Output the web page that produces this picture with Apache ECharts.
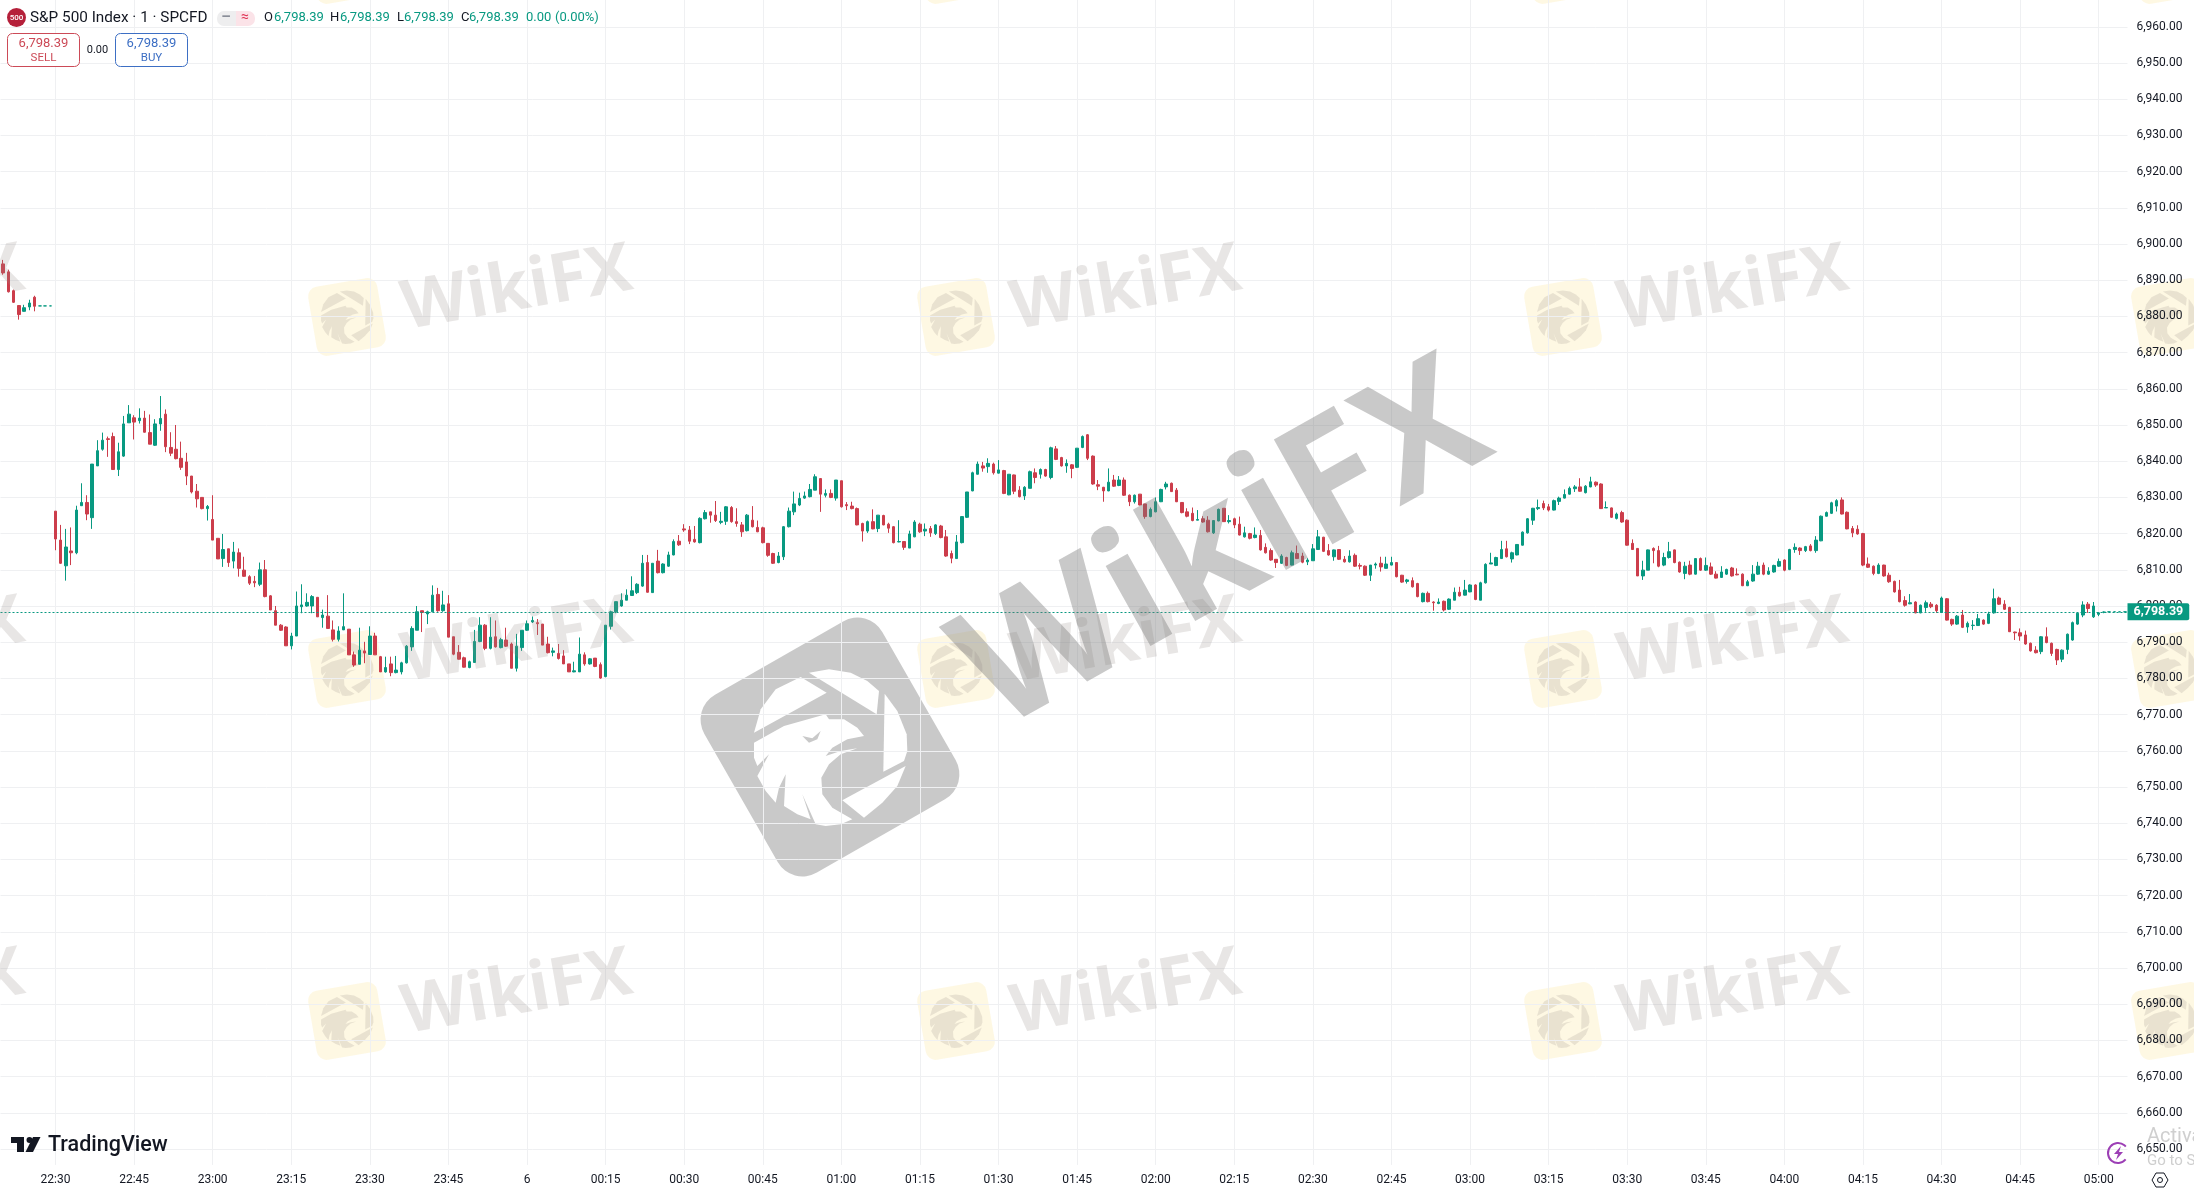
<!DOCTYPE html>
<html>
<head>
<meta charset="utf-8">
<style>html,body{margin:0;padding:0;background:#fff;overflow:hidden}#c{width:2194px;height:1193px}</style>
<script src="https://cdn.jsdelivr.net/npm/echarts@6/dist/echarts.min.js"></script>
</head>
<body>
<div id="c"></div>
<script>
// Rows are [open, close, high, low], one per minute.
const bars2220 = [
[6894.5,6892,6895.6,6891.5],[6892.3,6886.8,6892.9,6886.6],[6887.1,6883.9,6887.4,6883.7],[6883,6880.5,6883.1,6879.1],
[6881.4,6882.4,6883.2,6881.3],[6882.6,6883.7,6884.6,6881.7],[6885.3,6882.8,6885.7,6881.4],[6882.9,6882.9,6882.9,6882.9],
[6882.9,6882.9,6882.9,6882.9],[6882.9,6882.9,6882.9,6882.9]];
const bars2230 = [
[6826.2,6818.5,6826.2,6815.4],[6818.2,6811.8,6822.4,6811.6],[6811.1,6816.3,6821.3,6807],[6815.2,6814.7,6821.7,6811.3],
[6814.7,6826.5,6827.7,6814.3],[6827.7,6828.6,6833.9,6827.7],[6828.6,6825.4,6830.6,6823.7],[6824.4,6839.2,6839.2,6821.3],
[6838.7,6842.9,6845.8,6838.7],[6843.3,6845.8,6847.9,6842.9],[6846.2,6846,6846.8,6841.2],[6846.8,6837.7,6847.9,6837.6],
[6837.7,6842.6,6845.1,6835.9],[6841.4,6850.3,6852.5,6841.2],[6850.6,6853,6855.5,6850.6],[6852,6850.8,6852.7,6846],
[6851.2,6851.9,6854.6,6850.4],[6851.9,6848,6853.9,6847.9],[6847.9,6844.7,6852.9,6844.7],[6844.4,6850.3,6851.6,6844.2],
[6850.3,6851.8,6858,6848.4],[6853,6844,6854.3,6842.5],[6843.8,6842.2,6848,6841.4],[6843.3,6840.7,6850,6840.5],
[6840.8,6838.3,6845.4,6837.6],[6839.8,6835.9,6842.3,6833.4],[6835.9,6831.5,6835.9,6831.1],[6831.7,6829.6,6833.7,6827.2],
[6830,6826.9,6830,6826.7],[6826.9,6827.5,6827.9,6823.6]];
const bars2300 = [
[6823.9,6818.2,6830.6,6818.2],[6818.7,6813,6818.7,6813],[6813.1,6815.6,6819.9,6810.8],[6815.8,6812,6815.8,6810.8],
[6812.4,6814.9,6817.7,6810.4],[6814.7,6810.4,6815.9,6808.1],[6809.9,6808.2,6813.6,6808.1],[6808.1,6806.3,6808.5,6805.8],
[6806.8,6806.4,6808.3,6805.2],[6806,6810,6812,6805.5],[6810,6802.6,6812.7,6802.4],[6802.8,6798.9,6803,6798.9],
[6798.7,6794.7,6800,6794.7],[6794.7,6793.3,6795,6793.1],[6794.2,6789,6794.4,6789],[6789,6791.7,6792.6,6788],
[6791.7,6800,6804,6791.7],[6799.8,6800.3,6806,6798],[6800,6801,6803.5,6799.8],[6800,6802.6,6803,6798],
[6802.4,6797,6802.4,6797],[6796.8,6797.5,6799,6794],[6797.2,6793.8,6803,6793.8],[6793.4,6790.8,6796,6790.2],
[6790.8,6793.1,6794.4,6790.2],[6793.4,6794.3,6803.5,6793.4],[6793.6,6786.5,6793.6,6786.5],[6786.5,6783.7,6787.4,6783.2],
[6783.9,6787.8,6794,6783.9],[6787.6,6787,6790.1,6784.2]];
const bars2330 = [
[6786.6,6791.7,6794.4,6786.6],[6791.7,6786.5,6792.6,6786.5],[6786,6781.8,6786.2,6781.8],[6781.8,6783,6786,6781.6],
[6784,6781.6,6786,6780.6],[6781.6,6782.3,6786.2,6781.4],[6781.8,6784.3,6784.6,6781.1],[6784.3,6788.9,6789.2,6784.1],
[6788.7,6793.8,6794.4,6787.6],[6793.3,6798.4,6800,6793.3],[6798.7,6798.2,6798.7,6792.8],[6797.8,6798.4,6798.7,6795],
[6798.4,6803,6805.7,6798.4],[6803.2,6798.7,6805,6798.4],[6798.7,6800.3,6804.2,6798.4],[6800.6,6791.4,6803,6791.4],
[6791.5,6786.7,6791.5,6786.4],[6787.2,6785.3,6789.2,6785.2],[6785.7,6783.1,6786,6783],[6783,6784.6,6784.9,6782.8],
[6784.4,6790.2,6793.4,6784.4],[6790.2,6794.7,6796.9,6790],[6794.7,6788.3,6795,6787.8],[6788.3,6791.4,6796.9,6788],
[6791.5,6788.7,6796,6788.5],[6788.5,6790.7,6791.2,6788.3],[6790.6,6788.9,6794,6788.7],[6789.5,6782.8,6789.9,6782.8],
[6782.8,6788.9,6792.3,6781.9],[6788.5,6793.3,6793.3,6787.6]];
const bars0000 = [
[6793.3,6795.1,6796,6793.1],[6795.6,6796,6797.1,6795.3],[6795.4,6795.1,6796.4,6792],[6795,6789.2,6795,6789.2],
[6789.5,6787.1,6791.5,6786.9],[6787.2,6787.6,6788.5,6786.1],[6786.9,6785.5,6789.5,6785.2],[6786.2,6784,6787.8,6784],
[6784,6781.8,6784,6781.8],[6781.8,6782.1,6784.6,6781.7],[6781.8,6786.7,6791.3,6781.8],[6786.5,6784,6787.2,6783.5],
[6784,6785.4,6785.6,6783.8],[6785.6,6783.3,6785.6,6783.1],[6783.8,6780.1,6784.4,6779.9],[6780.5,6794.7,6794.7,6780.3],
[6794.4,6798.4,6798.7,6793.5],[6798.4,6801.2,6801.2,6798],[6800,6801.6,6803.5,6799.8],[6801.6,6803,6804.6,6801.6],
[6802.9,6804.2,6808.2,6802.8],[6803.7,6806,6806.3,6803.3],[6805.5,6811.8,6814.1,6805.3],[6812,6803.8,6814.1,6803.7],
[6803.7,6811.8,6811.8,6803.6],[6812.4,6809.2,6815.5,6809],[6809.2,6811.6,6811.8,6809],[6811,6814.1,6815,6810.8],
[6814.1,6817.8,6818.4,6814],[6817.9,6816.9,6819.6,6816.6]];
const bars0030 = [
[6821.3,6821,6822.6,6820.5],[6821,6817.9,6822.1,6817.1],[6818.4,6817.7,6822.1,6817.5],[6817.5,6824.2,6824.5,6817.3],
[6824.1,6825.8,6826.5,6823.9],[6826,6825.1,6826,6823],[6825.1,6823.6,6829,6823.2],[6823.1,6823.4,6826,6822.6],
[6823.4,6827.4,6827.6,6822.4],[6827.2,6823.3,6827.6,6823],[6823.3,6822.8,6827,6821.9],[6822.4,6820.5,6823.2,6819.1],
[6820.8,6825.1,6825.4,6820.6],[6823.7,6821.9,6827.6,6821.7],[6821.7,6820.5,6823.6,6820.4],[6821.6,6817.5,6821.9,6817.3],
[6817.3,6814,6817.3,6813.6],[6814.5,6811.8,6814.7,6811.6],[6812,6813.8,6814.9,6811.8],[6813.6,6821.9,6822.1,6812.7],
[6821.9,6826.2,6827.2,6821.7],[6826,6828.2,6831.6,6825.1],[6827.9,6829.7,6831.3,6827.6],[6829.8,6830.4,6831.6,6829.6],
[6830.2,6832.2,6833.7,6830],[6832,6835.7,6836.4,6832],[6835.2,6830.9,6835.3,6826],[6830.6,6831.1,6832.2,6830],
[6831.1,6830,6832.2,6829.8],[6829.8,6834.8,6834.8,6829.1]];
const bars0100 = [
[6834.6,6827.4,6834.6,6827.2],[6828,6827.7,6828.7,6826.5],[6827.6,6826.9,6828.8,6826.7],[6826.9,6822.4,6827.2,6822.3],
[6822.8,6820.7,6823,6817.8],[6820.7,6823.3,6823.6,6820.2],[6823.3,6821.3,6826.7,6821.2],[6821.4,6825.1,6825.1,6820.4],
[6825,6822.4,6825.2,6822.3],[6822.6,6821.5,6823,6820.2],[6821.9,6817.5,6822.1,6817.3],[6817.7,6817.8,6823.7,6817.6],
[6817.8,6816.2,6817.8,6815.5],[6816,6819.9,6820.8,6816],[6819.1,6823.2,6823.7,6819],[6822.6,6820.5,6823,6820.2],
[6820.7,6821.2,6822.8,6819.3],[6821.4,6820.2,6822.1,6819.1],[6820,6822.4,6822.6,6819.6],[6822.1,6818.9,6822.4,6818.7],
[6819.1,6813.8,6821,6813.6],[6814.5,6813.2,6815.3,6811.8],[6813.1,6817.7,6819.6,6813.1],[6817.5,6824.7,6824.8,6817.3],
[6824.5,6831.5,6831.5,6824.3],[6831.8,6836.8,6837.1,6831.7],[6836.4,6839.2,6839.9,6836.3],[6838.7,6838.1,6839.8,6837.1],
[6838.5,6839.4,6840.8,6836.8],[6839.2,6836.8,6839.6,6836.3]];
const bars0130 = [
[6836.7,6837.6,6840.3,6836.6],[6837.4,6831.1,6837.6,6830.9],[6830.7,6836.4,6836.4,6830.6],[6836.2,6831.7,6836.3,6830.9],
[6832,6830.2,6833.1,6830],[6830.4,6832.8,6833.1,6829.3],[6832.5,6837.1,6837.4,6832.5],[6836.8,6835.5,6838,6833.9],
[6836.4,6837.7,6838,6835.2],[6837.7,6835.9,6837.9,6835.7],[6835.5,6843.7,6844,6835],[6843.4,6840.5,6844.2,6840.3],
[6841,6838.7,6841.2,6838.5],[6838.7,6839.4,6840.5,6836.8],[6839,6838,6839.2,6835.3],[6838.3,6843.6,6843.6,6838.1],
[6843.8,6846.8,6847.1,6843.6],[6847.3,6840.8,6847.5,6840.3],[6841.4,6833.7,6841.6,6833.5],[6833.5,6833.1,6834.8,6832],
[6832.8,6831.8,6832.9,6828.8],[6831.8,6834.2,6838,6831.7],[6834.8,6833.1,6836.2,6832.9],[6833.3,6834.8,6835.9,6833.1],
[6834.8,6830.6,6835.5,6830.4],[6830.6,6828.8,6830.8,6827.6],[6828.8,6830.6,6830.8,6828.3],[6830.9,6827.9,6830.9,6827.8],
[6828.2,6824.7,6828.2,6824.1],[6824.7,6826.7,6827.2,6824.5]];
const bars0200 = [
[6826,6828.8,6830,6825.9],[6828.8,6832.2,6832.4,6828.7],[6832.9,6833.7,6834.3,6832.2],[6833.9,6831.6,6834.1,6831.5],
[6832,6828.8,6832.6,6828.7],[6828.6,6825.8,6828.7,6825.6],[6826,6824.8,6827,6824.5],[6825.6,6823.6,6827.2,6823.4],
[6823.7,6823.9,6826.5,6823.7],[6824.1,6823.2,6824.8,6823],[6823.7,6820.5,6824.8,6820.3],[6820.2,6823.6,6823.7,6819.9],
[6823.5,6826.7,6826.9,6823.4],[6827,6823.3,6827,6823.2],[6823.3,6823.6,6825.1,6822.8],[6824.1,6822.4,6824.4,6821.5],
[6822.6,6819.6,6824.7,6819.5],[6819.1,6820.2,6821.9,6818.9],[6820,6818.7,6820.2,6818.4],[6818.9,6819.6,6821.7,6818.7],
[6819.5,6815.5,6821,6815.3],[6816.2,6814.7,6817.3,6814.5],[6815.3,6812.7,6815.9,6812.5],[6812.9,6812,6812.9,6810.5],
[6811.8,6813.8,6814.3,6811.6],[6813.4,6811.2,6813.6,6811],[6811.3,6814.7,6815.3,6811.2],[6814.5,6813.1,6816.7,6813],
[6813.8,6812.1,6814.7,6811.8],[6812.2,6812.7,6813.2,6811.3]];
const bars0230 = [
[6812.5,6815.8,6817.1,6812.5],[6815.6,6819.1,6821,6815.5],[6819,6815.1,6819.1,6814.9],[6815.3,6814.1,6817.1,6813.9],
[6813.6,6815.5,6815.6,6812.5],[6815.6,6812.9,6815.7,6812.7],[6812.9,6812.2,6813.8,6812],[6812.2,6813.8,6815.4,6812],
[6814,6811,6814.5,6810.8],[6811.2,6811,6811.8,6810.1],[6811,6808.5,6811.2,6808.3],[6808.5,6811.3,6811.3,6806.9],
[6811.3,6811.6,6812,6810.3],[6811.8,6810.8,6813.6,6809.5],[6810.4,6811.6,6813.6,6810.3],[6811.3,6812,6813.6,6811.2],
[6812,6808.1,6812,6807.9],[6808.5,6806.6,6808.6,6806.4],[6806.8,6807.2,6807.5,6806.2],[6807,6805.3,6807.9,6805.1],
[6806.2,6802.6,6806.4,6802.4],[6801.2,6803.5,6803.7,6801],[6803.5,6801.2,6804,6801],[6801.1,6800.9,6801.3,6798.7],
[6800.7,6801.1,6802.1,6800.5],[6801.3,6798.9,6801.5,6798.5],[6799.1,6801.9,6802.1,6798.9],[6801.6,6803.8,6805.1,6801.6],
[6803.8,6802.8,6805.3,6802.6],[6803,6804.4,6807.2,6802.9]];
const bars0300 = [
[6803.9,6805.8,6806,6803.8],[6805.8,6801.8,6806,6801.6],[6801.6,6806.4,6806.7,6801.6],[6806.4,6811.5,6811.8,6806.2],
[6811.6,6811.9,6814.7,6811.6],[6811.2,6813.4,6813.6,6811],[6813.1,6815.6,6818,6813],[6815.8,6813.6,6818,6813.4],
[6813,6814.7,6815,6812],[6814.1,6817,6817.1,6814],[6816.8,6820.4,6820.6,6816.7],[6820.2,6824.1,6824.3,6820],
[6823.7,6827,6827.1,6822.4],[6826.9,6827.2,6829.4,6826.5],[6828.3,6827.1,6829.1,6826.5],[6827.4,6826.5,6828.2,6826.1],
[6826.5,6829.1,6829.4,6826.4],[6828.9,6829.8,6830.2,6827.9],[6829.8,6830.8,6832.2,6829.7],[6830.9,6832.5,6833,6830.8],
[6832.4,6832.9,6833.4,6831.5],[6832.9,6831.7,6835.3,6831.6],[6831.3,6833.1,6833.4,6831.1],[6832.9,6834.3,6835.7,6832.8],
[6834.2,6833.4,6834.4,6832.9],[6833.7,6826.9,6833.9,6826.8],[6827.1,6827.2,6828.9,6827.1],[6827.1,6824.5,6827.2,6824.3],
[6824.2,6825.4,6825.8,6823.9],[6825.8,6823.2,6826.3,6823]];
const bars0330 = [
[6823.7,6816.8,6823.9,6816.7],[6817.3,6815.6,6818.4,6815.5],[6815.9,6808.3,6816,6808.3],[6808.3,6809.9,6812.5,6807.2],
[6809.9,6815.5,6815.6,6809.9],[6815.9,6815.3,6816.2,6811.8],[6815.3,6811,6816.6,6810.7],[6811.3,6813.4,6814.7,6811],
[6813.4,6815,6817.7,6813.1],[6815.5,6812,6815.6,6811.8],[6812.1,6809.4,6812.3,6809.2],[6809,6811,6812.2,6807.4],
[6811.3,6808.8,6812.5,6808.5],[6808.8,6813.1,6813.2,6808.7],[6813.1,6809.9,6813.4,6809.7],[6809.9,6811.2,6813.4,6809.7],
[6810.8,6808.8,6812,6808.6],[6808.8,6807.7,6809.6,6807.6],[6807.9,6809.4,6811,6807.8],[6808.8,6810.1,6810.3,6808.6],
[6810.5,6808.3,6810.8,6808.1],[6808.8,6808.6,6810.4,6808.5],[6808.8,6805.6,6809,6805.5],[6805.6,6806.7,6807.2,6805.5],
[6806.9,6808.8,6811.3,6806.7],[6808.8,6811,6812.2,6808.6],[6811.3,6808.8,6812,6808.5],[6808.8,6809.6,6810.7,6808.6],
[6809.4,6811.2,6811.4,6809.2],[6811,6812.3,6813.1,6810.8]];
const bars0400 = [
[6812.7,6809.9,6812.9,6809.6],[6810.1,6815.6,6815.8,6809.9],[6815.6,6816.2,6817.3,6814.7],[6816,6815.3,6816.2,6814.1],
[6815.3,6816.4,6816.6,6814.9],[6816.6,6815.3,6817.1,6815.1],[6815.3,6818.2,6819.3,6814.7],[6818,6824.8,6825,6817.9],
[6824.8,6825.8,6826.1,6824.7],[6825.6,6828.5,6828.8,6825.4],[6827.6,6829.1,6829.5,6826.1],[6829.3,6825.4,6830,6825.3],
[6825.9,6821.3,6826.1,6821.2],[6821.4,6820.2,6822.1,6819],[6821.2,6819.9,6822.3,6819.7],[6820,6811.3,6820.2,6811],
[6811.6,6810.7,6813.4,6810.5],[6811,6809,6811.2,6808.5],[6809,6811.3,6811.8,6808.8],[6811.3,6808.3,6811.4,6808.1],
[6808.5,6806.7,6809.2,6806.4],[6806.8,6803.9,6807,6803.7],[6804.4,6801.2,6807.2,6801],[6801.5,6800.2,6802.7,6799.8],
[6800.6,6800.9,6803.3,6800.5],[6801.1,6798.1,6801.3,6798],[6798.1,6800.2,6800.4,6798],[6799.6,6800.9,6801.5,6798.4],
[6800.5,6799.8,6801.1,6799.4],[6800.2,6798.7,6800.5,6798.1]];
const bars0430 = [
[6798.2,6802.2,6802.6,6798.1],[6802,6796.1,6802.2,6796],[6796.3,6795,6796.5,6794.5],[6795,6797.2,6797.5,6794.8],
[6797.5,6794.1,6798.9,6793.9],[6794.2,6795.2,6795.7,6792.6],[6794.6,6794.7,6796.1,6793.4],[6794.6,6796.5,6797.8,6794.5],
[6796.1,6795,6796.3,6794.8],[6795.2,6797.8,6798.4,6795],[6798.1,6802,6804.8,6797.9],[6802.2,6800.5,6802.6,6800.3],
[6800.5,6799.1,6801.6,6798.9],[6799.6,6792.9,6799.8,6792.8],[6792.8,6792.6,6792.9,6790.6],[6792.6,6791.7,6793.8,6790.4],
[6792,6789.5,6793.2,6789.3],[6789.7,6787.6,6789.9,6787.4],[6787.8,6787.1,6788.9,6786.9],[6787.4,6791.5,6791.7,6786.7],
[6791.5,6789.9,6794.1,6789.7],[6789.7,6786.9,6789.9,6786.2],[6788,6785.1,6788.2,6783.7],[6785.3,6787.8,6788,6784.5],
[6788,6792.2,6792.4,6786.7],[6790.6,6795.4,6795.7,6790.4],[6795,6798,6798.1,6794.8],[6797.5,6800.3,6801.3,6796.9],
[6800.5,6799.3,6801.1,6798.1],[6797,6800,6801.1,6796.7]];
const bars0500 = [
[6797.7,6798.1,6798.3,6797.2],[6798.3,6798.3,6798.5,6798],[6798.39,6798.39,6798.39,6798.39],[6798.39,6798.39,6798.39,6798.39],
[6798.39,6798.39,6798.39,6798.39],[6798.39,6798.39,6798.39,6798.39]];

const lastPrice = 6798.39;
const firstMinute = 22 * 60 + 20;          // 22:20, the first bar
const dayTickLabel = '6';                  // label shown at 00:00

const rows = [].concat(bars2220, bars2230, bars2300, bars2330, bars0000, bars0030, bars0100,
                       bars0130, bars0200, bars0230, bars0300, bars0330, bars0400, bars0430, bars0500);
const minutes = rows.map((_, i) => (firstMinute + i) % 1440);
const pad = n => String(n).padStart(2, '0');
const categories = minutes.map(m => pad(Math.floor(m / 60)) + ':' + pad(m % 60));
const isTick = i => i >= 10 && minutes[i] % 15 === 0;
const tickCats = categories.filter((_, i) => isTick(i));
const candleData = rows.map(r => [r[0], r[1], r[3], r[2]]); // open, close, low, high

const UP = '#089981', DOWN = '#cc3d4b', INK = '#131722', GRID = '#eff0f2';
const FONT = 'Roboto, sans-serif';

// ---------- overlay art ----------
const txt = (text, x, y, size, fill, o = {}) => ({
  type: 'text', x, y, z: o.z || 20, rotation: o.rotation || 0,
  style: { text, fill, font: `${o.weight || 'normal'} ${size}px ${o.family || FONT}`,
           textAlign: o.align || 'left', textVerticalAlign: 'middle' }
});
// Watermark logo outline, in a 780-unit drawing centred at (388,388).
const logoParts = [
  [[160,345],[180,275],[225,215],[300,178],[378,225]],
  [[325,165],[385,155],[450,165],[500,190],[535,220],[528,290]],
  [[552,228],[590,280],[618,350],[620,400],[610,430],[548,462]],
  [[615,445],[590,505],[545,555],[490,600],[425,548]],
  [[160,375],[250,325],[375,290],[385,305],[430,305],[470,330],[490,355],[440,365],[395,390],[375,415],[420,400],[470,392],
   [420,410],[385,440],[362,480],[365,530],[395,570],[455,605],[420,620],[375,625],[345,620],[305,530],[330,605],[290,590],
   [250,565],[255,470],[235,510],[225,555],[195,520],[170,475],[205,410],[170,445],[160,420]]
];
const logoEye = [[305,355],[335,362],[360,340],[350,365],[325,375]];
function logo(cx, cy, size, rotation, boxFill, partFill, eyeFill, z) {
  const s = size / 205 / 3;
  const map = p => p.map(q => [(q[0] - 388) * s, (q[1] - 388) * s]);
  const children = [{ type: 'rect', shape: { x: -size / 2, y: -size / 2, width: size, height: size, r: size * 0.14 }, style: { fill: boxFill } }];
  logoParts.forEach(p => children.push({ type: 'polygon', rotation: -rotation, shape: { points: map(p) }, style: { fill: partFill } }));
  if (eyeFill) children.push({ type: 'polygon', rotation: -rotation, shape: { points: map(logoEye) }, style: { fill: eyeFill } });
  return { type: 'group', x: cx, y: cy, rotation, z, children };
}
const smallText = 'rgba(150,140,135,0.22)', smallBox = 'rgba(250,225,140,0.24)', smallPart = 'rgba(150,140,135,0.2)';
const art = [];
[-35, 317, 669, 1021].forEach(ly => {
  [-261, 347, 956, 1563, 2170].forEach(lx => {
    art.push(logo(lx, ly, 70, 0.17, smallBox, smallPart, null, 0));
    art.push(txt('WikiFX', lx + 170, ly - 27, 68, smallText, { align: 'center', weight: '700', family: '"Open Sans", sans-serif', rotation: 0.175, z: 0 }));
  });
});
art.push(logo(830, 747, 205, 0.52, 'rgba(120,120,120,0.4)', '#ffffff', 'rgba(120,120,120,0.4)', 60));
art.push(txt('WikiFX', 1224, 550, 168, 'rgba(120,120,120,0.4)', { align: 'center', weight: '700', family: '"Open Sans", sans-serif', rotation: 0.51, z: 60 }));

// header
art.push({ type: 'circle', z: 20, shape: { cx: 16.5, cy: 17.5, r: 9.5 }, style: { fill: '#b5203a' } });
art.push(txt('500', 16.5, 17.5, 8, '#fff', { align: 'center', weight: '500' }));
art.push(txt('S&P 500 Index · 1 · SPCFD', 30, 18, 15.3, INK));
art.push({ type: 'rect', z: 20, shape: { x: 217, y: 11, width: 19, height: 15, r: [7, 0, 0, 7] }, style: { fill: '#eeeeef' } });
art.push({ type: 'rect', z: 20, shape: { x: 236, y: 11, width: 19, height: 15, r: [0, 7, 7, 0] }, style: { fill: '#fbe3e8' } });
art.push(txt('–', 226, 17, 15, '#8a8e99', { align: 'center', weight: '700' }));
art.push(txt('≈', 245, 17.5, 14, '#e0395a', { align: 'center' }));
[['O', 264, 274], ['H', 330, 340], ['L', 397, 404], ['C', 461, 469]].forEach(h => {
  art.push(txt(h[0], h[1], 18, 13, INK));
  art.push(txt('6,798.39', h[2], 18, 13, UP));
});
art.push(txt('0.00', 526, 18, 13, UP));
art.push(txt('(0.00%)', 555, 18, 13, UP));
art.push({ type: 'rect', z: 20, shape: { x: 7.5, y: 33.5, width: 72, height: 33, r: 5 }, style: { fill: '#fff', stroke: '#cc4a57', lineWidth: 1 } });
art.push(txt('6,798.39', 43.5, 43.5, 13, '#cc4a57', { align: 'center' }));
art.push(txt('SELL', 43.5, 58, 11.5, '#cc4a57', { align: 'center' }));
art.push(txt('0.00', 97.5, 50, 11, INK, { align: 'center' }));
art.push({ type: 'rect', z: 20, shape: { x: 115.5, y: 33.5, width: 72, height: 33, r: 5 }, style: { fill: '#fff', stroke: '#3d6fc4', lineWidth: 1 } });
art.push(txt('6,798.39', 151.5, 43.5, 13, '#3d6fc4', { align: 'center' }));
art.push(txt('BUY', 151.5, 58, 11.5, '#3d6fc4', { align: 'center' }));

// TradingView mark
art.push({ type: 'polygon', z: 20, shape: { points: [[11,1137],[24,1137],[24,1152],[17,1152],[17,1143],[11,1143]] }, style: { fill: INK } });
art.push({ type: 'circle', z: 20, shape: { cx: 29.5, cy: 1140, r: 3 }, style: { fill: INK } });
art.push({ type: 'polygon', z: 20, shape: { points: [[33,1137],[40.5,1137],[33,1152],[25.5,1152]] }, style: { fill: INK } });
art.push(txt('TradingView', 48, 1146, 21.5, INK, { weight: '500' }));

// bottom-right icons
art.push({ type: 'arc', z: 20, shape: { cx: 2118, cy: 1153, r: 10, startAngle: 0.7, endAngle: 5.6 }, style: { stroke: '#9c3fb5', fill: 'none', lineWidth: 2 } });
art.push({ type: 'polygon', z: 20, shape: { points: [[2121,1146],[2114,1154],[2118,1154],[2116,1160],[2123,1152],[2119,1152]] }, style: { fill: '#9c3fb5' } });
art.push(txt('Activate Windows', 2147, 1137, 20, '#cfcfcf', { z: 25 }));
art.push(txt('Go to Settings', 2147, 1161, 15, '#cfcfcf', { z: 25 }));
art.push({ type: 'polygon', z: 20, shape: { points: [[2152,1180],[2156,1173],[2164,1173],[2168,1180],[2164,1187],[2156,1187]] }, style: { fill: '#fff', stroke: INK, lineWidth: 1 } });
art.push({ type: 'circle', z: 21, shape: { cx: 2160, cy: 1180, r: 2.5 }, style: { fill: '#fff', stroke: INK, lineWidth: 1 } });

// ---------- chart ----------
const chart = echarts.init(document.getElementById('c'), null, { renderer: 'canvas' });
chart.setOption({
  animation: false,
  backgroundColor: '#ffffff',
  textStyle: { fontFamily: FONT },
  graphic: { elements: art },
  grid: { left: 0.5, right: 66.5, top: 0, height: 1185.2 },
  xAxis: {
    type: 'category', data: categories, boundaryGap: true,
    axisLine: { show: false }, axisTick: { show: false }, splitLine: { show: false },
    position: 'bottom', offset: -20,
    axisLabel: {
      show: true, margin: 8.5, color: INK, fontSize: 12, fontFamily: FONT,
      interval: i => isTick(i),
      formatter: v => v === '00:00' ? dayTickLabel : v
    }
  },
  yAxis: {
    type: 'value', position: 'right', min: 6640, max: 6967.4, interval: 10, scale: true,
    axisLine: { show: false }, axisTick: { show: false },
    axisLabel: {
      margin: 9, color: INK, fontSize: 12, fontFamily: FONT, showMinLabel: false, showMaxLabel: false,
      formatter: v => v.toLocaleString('en-US', { minimumFractionDigits: 2, maximumFractionDigits: 2 })
    },
    splitLine: { show: true, showMinLine: false, showMaxLine: false, lineStyle: { color: GRID, width: 1 } }
  },
  series: [
    { type: 'line', data: [], silent: true, z: 1,
      markLine: { silent: true, symbol: 'none', z: 1, animation: false, label: { show: false },
        lineStyle: { color: GRID, width: 1, type: 'solid' },
        data: tickCats.map(c => [{ xAxis: c, yAxis: 6967.4 }, { xAxis: c, yAxis: 6645.6 }]) } },
    { type: 'candlestick', data: candleData, barWidth: 3, z: 5,
      itemStyle: { color: UP, color0: DOWN, borderColor: UP, borderColor0: DOWN, borderWidth: 1 },
      markLine: { silent: true, symbol: 'none', z: 6, animation: false,
        lineStyle: { color: UP, width: 1, type: [2, 2] },
        label: { show: true, position: 'end', distance: 0, formatter: '6,798.39', color: '#fff', fontWeight: 'bold', fontSize: 12.5, fontFamily: FONT,
                 backgroundColor: UP, padding: [2, 6, 2, 6], borderRadius: [0, 2, 2, 0] },
        data: [{ yAxis: lastPrice }] } }
  ]
});
</script>
</body>
</html>
